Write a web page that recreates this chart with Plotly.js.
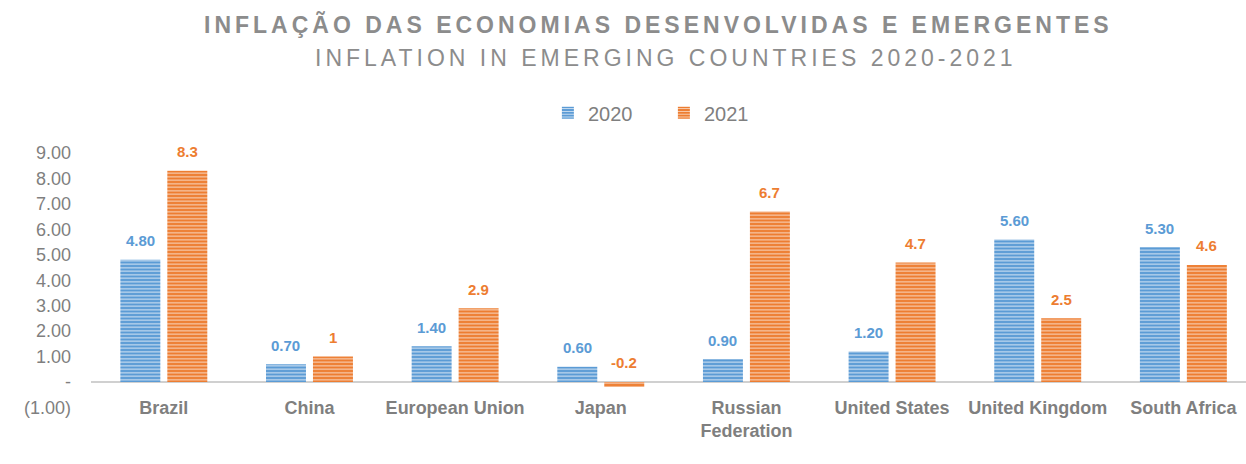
<!DOCTYPE html>
<html>
<head>
<meta charset="utf-8">
<script src="https://cdn.plot.ly/plotly-3.0.1.min.js"></script>
<style>
  html, body { margin: 0; padding: 0; background: #ffffff; }
  #chart { width: 1246px; height: 464px; }
  g.annotation[data-index="0"] text, g.annotation[data-index="1"] text { letter-spacing: 4px; }
</style>
</head>
<body>
<div id="chart"></div>
<script>
const titleLine1 = "INFLAÇÃO DAS ECONOMIAS DESENVOLVIDAS E EMERGENTES";
const titleLine2 = "INFLATION IN EMERGING COUNTRIES 2020-2021";
const categories = ["Brazil", "China", "European Union", "Japan", "Russian<br>Federation", "United States", "United Kingdom", "South Africa"];
const values2020 = [4.80, 0.70, 1.40, 0.60, 0.90, 1.20, 5.60, 5.30];
const values2021 = [8.3, 1, 2.9, -0.2, 6.7, 4.7, 2.5, 4.6];
const labels2020 = ["4.80", "0.70", "1.40", "0.60", "0.90", "1.20", "5.60", "5.30"];
const labels2021 = ["8.3", "1", "2.9", "-0.2", "6.7", "4.7", "2.5", "4.6"];
const yTickVals = [-1, 0, 1, 2, 3, 4, 5, 6, 7, 8, 9];
const yTickText = ["(1.00)", "-", "1.00", "2.00", "3.00", "4.00", "5.00", "6.00", "7.00", "8.00", "9.00"];

const BLUE = "#5b9bd5";
const ORANGE = "#ed7d31";
const GRAY = "#7f7f7f";
const FONT = "Liberation Sans, Arial, sans-serif";

const traces = [
  {
    type: "bar", name: "2020", x: categories, y: values2020,
    marker: { color: BLUE, line: { width: 0 },
      pattern: { shape: "-", bgcolor: BLUE, fgcolor: "#d9e7f5", size: 3.5, solidity: 0.3, fillmode: "replace" } },
    hoverinfo: "skip"
  },
  {
    type: "bar", name: "2021", x: categories, y: values2021,
    marker: { color: ORANGE, line: { width: 0 },
      pattern: { shape: "-", bgcolor: ORANGE, fgcolor: "#f9d9c3", size: 3.5, solidity: 0.3, fillmode: "replace" } },
    hoverinfo: "skip"
  }
];

const annotations = [
  { text: "<b>" + titleLine1 + "</b>", xref: "paper", yref: "paper", x: 0.4915, y: 1.4228,
    xanchor: "center", yanchor: "middle", showarrow: false,
    font: { family: FONT, size: 23, color: "#8c8c8c" } },
  { text: titleLine2, xref: "paper", yref: "paper", x: 0.4975, y: 1.3015,
    xanchor: "center", yanchor: "middle", showarrow: false,
    font: { family: FONT, size: 23, color: "#8c8c8c" } }
];
categories.forEach((c, i) => {
  annotations.push({
    x: c, y: Math.max(values2020[i], 0), xref: "x", yref: "y",
    text: "<b>" + labels2020[i] + "</b>", showarrow: false,
    xshift: -23.5, yshift: 19, yanchor: "middle",
    font: { family: FONT, size: 15, color: BLUE }
  });
  annotations.push({
    x: c, y: Math.max(values2021[i], 0), xref: "x", yref: "y",
    text: "<b>" + labels2021[i] + "</b>", showarrow: false,
    xshift: 23.5, yshift: 19, yanchor: "middle",
    font: { family: FONT, size: 15, color: ORANGE }
  });
});

const layout = {
  width: 1246, height: 464,
  margin: { l: 91, r: 0, t: 140, b: 52 },
  paper_bgcolor: "#ffffff",
  plot_bgcolor: "#ffffff",
  barmode: "group",
  bargap: 0.355,
  bargroupgap: 0.149,
  showlegend: true,
  legend: {
    orientation: "h", x: 0.496, xanchor: "center", y: 1.10, yanchor: "middle",
    font: { family: FONT, size: 20, color: GRAY },
    itemwidth: 30, entrywidth: 71, entrywidthmode: "pixels", traceorder: "normal"
  },
  xaxis: {
    type: "category",
    range: [-0.5, 7.43],
    anchor: "free", position: 0.110,
    showline: false, showgrid: false, zeroline: false,
    ticks: "", ticklabelstandoff: 13,
    tickfont: { family: FONT, size: 18, color: GRAY, weight: "bold" },
    fixedrange: true
  },
  yaxis: {
    range: [-1.18, 9.51],
    tickvals: yTickVals, ticktext: yTickText,
    showgrid: false, showline: false,
    zeroline: true, zerolinecolor: "#d0d0d0", zerolinewidth: 2,
    ticks: "", ticklabelstandoff: 19,
    tickfont: { family: FONT, size: 18, color: GRAY },
    fixedrange: true
  },
  annotations: annotations
};

Plotly.newPlot("chart", traces, layout, { displayModeBar: false, staticPlot: true });
</script>
</body>
</html>
